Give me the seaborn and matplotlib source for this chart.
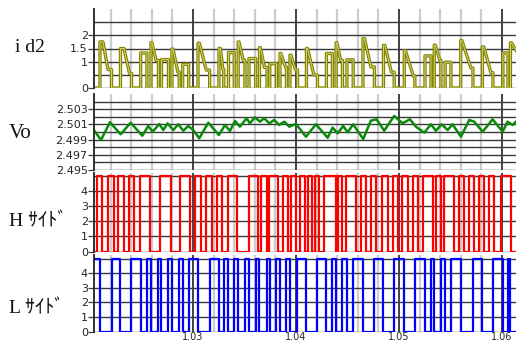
import numpy as np
import pandas as pd
import matplotlib
matplotlib.use("Agg")
import matplotlib.pyplot as plt
import seaborn as sns
from matplotlib.ticker import MultipleLocator, FixedLocator

sns.set_theme(style="white")
plt.rcParams["font.family"] = ["DejaVu Sans"]

# ---------------- data ----------------
T_START, T_END = 1.02039, 1.06137

# id2 current pulses: rise time, end of peak plateau, end of decay, fall time, peak value, value after decay
id2_rise = [1.02097, 1.02296, 1.02492, 1.02592, 1.02694, 1.02796, 1.02900, 1.03049, 1.03252, 1.03345,
            1.03439, 1.03544, 1.03646, 1.03746, 1.03845, 1.03942, 1.04102, 1.04296, 1.04390, 1.04495,
            1.04651, 1.04850, 1.05052, 1.05253, 1.05343, 1.05449, 1.05600, 1.05811, 1.06010, 1.06083]
id2_pend = [1.02126, 1.02330, 1.02492, 1.02602, 1.02694, 1.02806, 1.02900, 1.03063, 1.03267, 1.03345,
            1.03447, 1.03544, 1.03655, 1.03746, 1.03854, 1.03952, 1.04112, 1.04296, 1.04398, 1.04495,
            1.04665, 1.04864, 1.05063, 1.05253, 1.05353, 1.05449, 1.05612, 1.05825, 1.06010, 1.06092]
id2_knee = [1.02175, 1.02384, 1.02492, 1.02641, 1.02694, 1.02854, 1.02900, 1.03129, 1.03291, 1.03345,
            1.03488, 1.03544, 1.03694, 1.03746, 1.03898, 1.03995, 1.04175, 1.04296, 1.04434, 1.04495,
            1.04728, 1.04927, 1.05141, 1.05253, 1.05398, 1.05449, 1.05699, 1.05893, 1.06010, 1.06175]
id2_fall = [1.02209, 1.02403, 1.02553, 1.02665, 1.02762, 1.02867, 1.02958, 1.03162, 1.03299, 1.03401,
            1.03505, 1.03609, 1.03719, 1.03811, 1.03908, 1.04015, 1.04209, 1.04354, 1.04452, 1.04556,
            1.04762, 1.04954, 1.05155, 1.05311, 1.05408, 1.05505, 1.05719, 1.05913, 1.06058, 1.06200]
id2_peak = [1.75, 1.50, 1.33, 1.72, 1.08, 1.48, 0.90, 1.70, 1.50, 1.35,
            1.75, 1.12, 1.53, 0.92, 1.31, 1.25, 1.50, 1.31, 1.72, 1.07,
            1.88, 1.62, 1.42, 1.22, 1.63, 0.98, 1.80, 1.56, 1.33, 1.72]
id2_low = [0.70, 0.55, 1.33, 1.05, 1.08, 0.60, 0.90, 0.68, 0.70, 1.35,
           1.05, 1.12, 0.78, 0.92, 0.80, 0.69, 0.49, 1.31, 1.05, 1.07,
           0.80, 0.60, 0.45, 1.22, 1.05, 0.98, 0.76, 0.58, 1.33, 1.20]

# Vo ripple
vo_t = [1.02042, 1.02107, 1.02194, 1.02298, 1.02395, 1.02508, 1.02566, 1.02609, 1.02673, 1.02712,
        1.02754, 1.02809, 1.02857, 1.02906, 1.02954, 1.03003, 1.03061, 1.03149, 1.03252, 1.03311,
        1.03359, 1.03408, 1.03456, 1.03521, 1.03553, 1.03602, 1.03650, 1.03692, 1.03741, 1.03789,
        1.03838, 1.03886, 1.03935, 1.04000, 1.04097, 1.04194, 1.04308, 1.04356, 1.04405, 1.04459,
        1.04502, 1.04556, 1.04653, 1.04728, 1.04783, 1.04857, 1.04954, 1.05036, 1.05107, 1.05165,
        1.05246, 1.05311, 1.05359, 1.05415, 1.05473, 1.05521, 1.05602, 1.05683, 1.05731, 1.05813,
        1.05910, 1.06007, 1.06055, 1.06104, 1.06136]
vo_v = [2.50017, 2.49895, 2.50128, 2.49970, 2.50122, 2.49951, 2.50079, 2.50004, 2.50105, 2.50026,
        2.50114, 2.50026, 2.50101, 2.50017, 2.50079, 2.50026, 2.49917, 2.50122, 2.49960, 2.50092,
        2.50013, 2.50145, 2.50070, 2.50180, 2.50114, 2.50194, 2.50136, 2.50180, 2.50114, 2.50158,
        2.50092, 2.50136, 2.50070, 2.50105, 2.49938, 2.50101, 2.49925, 2.50057, 2.49983, 2.50079,
        2.49996, 2.50101, 2.49908, 2.50149, 2.50167, 2.50017, 2.50211, 2.50114, 2.50167, 2.50070,
        2.49991, 2.50101, 2.50017, 2.50101, 2.50026, 2.50101, 2.49938, 2.50158, 2.50136, 2.50004,
        2.50167, 2.50004, 2.50136, 2.50092, 2.50136]

# H-side gate: on / off times of each high interval
h_on = [1.02065, 1.02178, 1.02275, 1.02382, 1.02485, 1.02684, 1.02874, 1.03019, 1.03126, 1.03233,
        1.03337, 1.03547, 1.03660, 1.03741, 1.03871, 1.03951, 1.04039, 1.04117, 1.04187, 1.04275,
        1.04408, 1.04485, 1.04631, 1.04728, 1.04835, 1.04939, 1.05029, 1.05133, 1.05230, 1.05359,
        1.05440, 1.05586, 1.05683, 1.05780, 1.05877, 1.05990]
h_off = [1.02114, 1.02233, 1.02330, 1.02427, 1.02587, 1.02786, 1.02971, 1.03078, 1.03184, 1.03284,
         1.03430, 1.03636, 1.03718, 1.03822, 1.03925, 1.04000, 1.04087, 1.04155, 1.04226, 1.04388,
         1.04447, 1.04583, 1.04680, 1.04777, 1.04890, 1.04987, 1.05085, 1.05182, 1.05327, 1.05408,
         1.05537, 1.05634, 1.05731, 1.05828, 1.05926, 1.06087]

GATE_HIGH = 5.0

id2_ticks = [0, 1, 1.5, 2]
vo_ticks = [2.495, 2.497, 2.499, 2.501, 2.503]
gate_ticks = [0, 1, 2, 3, 4]
x_ticks = [1.03, 1.04, 1.05, 1.06]
x_tick_labels = ["1.03", "1.04", "1.05", "1.06"]
row_labels = ["i d2", "Vo", "H ｻｲﾄﾞ", "L ｻｲﾄﾞ"]

# ---------------- build waveforms ----------------
ix, iy = [T_START], [0.0]
for r, pe, k, f, p, lo in zip(id2_rise, id2_pend, id2_knee, id2_fall, id2_peak, id2_low):
    ix += [r, r, pe, k, f, f]
    iy += [0, p, p, lo, lo, 0]
ix.append(T_END + 0.001); iy.append(0)
df_id2 = pd.DataFrame({"t": ix, "v": iy})

hx, hy = [T_START], [0.0]
for a, b in zip(h_on, h_off):
    hx += [a, a, b, b]; hy += [0, GATE_HIGH, GATE_HIGH, 0]
hx.append(T_END + 0.001); hy.append(0)

# L-side gate is on while the diode current is zero
lx, ly = [T_START], [GATE_HIGH]
for r, f in zip(id2_rise, id2_fall):
    lx += [r, r, f, f]; ly += [GATE_HIGH, 0, 0, GATE_HIGH]
lx.append(T_END + 0.001); ly.append(GATE_HIGH)
df_h = pd.DataFrame({"t": hx, "v": hy})
df_l = pd.DataFrame({"t": lx, "v": ly})
df_vo = pd.DataFrame({"t": vo_t, "v": vo_v})

# ---------------- figure ----------------
W, H = 516, 341
fig = plt.figure(figsize=(W / 100, H / 100), dpi=100)
fig.patch.set_facecolor("white")

def add_ax(top, bottom):
    return fig.add_axes([94 / W, 1 - bottom / H, (W - 94) / W, (bottom - top) / H])

ax1 = add_ax(9, 88)
ax2 = add_ax(94, 170)
ax3 = add_ax(173, 251.5)
ax4 = add_ax(255, 331.5)
axes = [ax1, ax2, ax3, ax4]

sns.lineplot(data=df_id2, x="t", y="v", sort=False, estimator=None, ax=ax1,
             color="#868600", lw=2.4)
ax1.plot(df_id2["t"], df_id2["v"], color="#d2d27a", lw=0.7)
sns.lineplot(data=df_vo, x="t", y="v", sort=False, estimator=None, ax=ax2,
             color="#0a8a0a", lw=1.8)
sns.lineplot(data=df_h, x="t", y="v", sort=False, estimator=None, ax=ax3,
             color="#ff0000", lw=1.6)
sns.lineplot(data=df_l, x="t", y="v", sort=False, estimator=None, ax=ax4,
             color="#0000ff", lw=1.6)

ylims = [(0, 3.0), (2.495, 2.505), (0, 5.2), (0, 5.25)]
yticks = [id2_ticks, vo_ticks, gate_ticks, gate_ticks]
yminor = [[0.5, 2.5], [2.496, 2.498, 2.500, 2.502, 2.504], [5], [5]]
fmts = [lambda v: ("%g" % v), lambda v: "%.3f" % v, lambda v: "%d" % v, lambda v: "%d" % v]

for ax, yl, yt, ym, fm in zip(axes, ylims, yticks, yminor, fmts):
    ax.set_facecolor("white")
    ax.set_xlim(T_START, T_END)
    ax.set_ylim(*yl)
    ax.set_axisbelow(True)
    ax.xaxis.set_major_locator(FixedLocator(x_ticks))
    ax.xaxis.set_minor_locator(MultipleLocator(0.002))
    ax.yaxis.set_major_locator(FixedLocator(yt))
    ax.yaxis.set_minor_locator(FixedLocator(ym))
    ax.set_yticklabels([fm(v) for v in yt])
    ax.grid(which="minor", axis="x", color="#cdcdcd", lw=1.6)
    ax.grid(which="major", axis="x", color="#101010", lw=1.1)
    ax.grid(which="major", axis="y", color="#3a3a3a", lw=1.0)
    ax.grid(which="minor", axis="y", color="#3a3a3a", lw=1.0)
    for s in ["top", "right", "bottom"]:
        ax.spines[s].set_visible(False)
    ax.spines["left"].set_color("#202020")
    ax.spines["left"].set_linewidth(1.3)
    ax.tick_params(axis="y", which="major", direction="out", length=4, width=0.9,
                   color="#404040", labelsize=8, pad=0.5, left=True)
    ax.tick_params(axis="y", which="minor", length=0)
    ax.tick_params(axis="x", which="both", length=0, labelbottom=False)
    ax.set_xlabel("")
    ax.set_ylabel("")

ax4.set_xticks(x_ticks)
ax4.set_xticklabels(x_tick_labels)
ax4.tick_params(axis="x", which="major", labelbottom=True, labelsize=7, pad=0.3)

label_y = [48, 134, 222, 309]
label_size = [14, 15, 14, 14]
for txt, yy, sz in zip(row_labels, label_y, label_size):
    fig.text(9 / W if txt != "i d2" else 15 / W, 1 - yy / H, txt, ha="left", va="center",
             fontsize=sz, family=["Liberation Serif", "Noto Sans CJK JP"], color="#111111")

fig.savefig("out.png", dpi=100, facecolor="white")
